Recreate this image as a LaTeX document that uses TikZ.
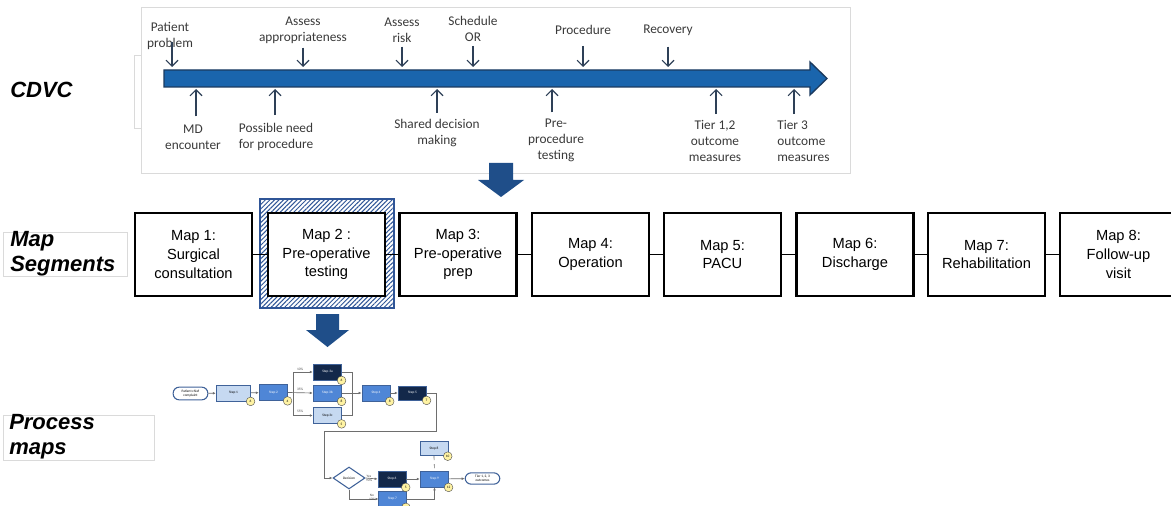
\documentclass[tikz,border=0pt]{standalone}
\usepackage{fontspec}
\setmainfont{Carlito}
\newfontfamily\arial{Liberation Sans}
\usetikzlibrary{arrows.meta,patterns.meta,shapes.geometric}
\definecolor{barblue}{HTML}{1A65AD}
\definecolor{bardark}{HTML}{1B3A5F}
\definecolor{bigarrow}{HTML}{1F4E89}
\definecolor{txtgray}{HTML}{3A3A3A}
\definecolor{tipcol}{HTML}{2E4057}
\definecolor{framegray}{HTML}{DADADA}
\definecolor{hatch}{HTML}{2F5597}
\definecolor{lightstep}{HTML}{C6D9F1}
\definecolor{midstep}{HTML}{4F86D6}
\definecolor{darkstep}{HTML}{13284A}
\definecolor{stepborder}{HTML}{3F6299}
\definecolor{circfill}{HTML}{FFF3A3}
\definecolor{pline}{HTML}{6E6E6E}
\begin{document}
\begin{tikzpicture}[x=0.75pt,y=-0.75pt,
  tl/.style={font=\fontsize{10}{12}\selectfont, align=center, text=txtgray, inner sep=0pt},
  tip/.style={draw=tipcol, line width=0.8pt, -{Straight Barb[length=4.5pt,width=9pt]}},
  mapbox/.style={draw=black, line width=1.9pt, fill=white, minimum width=87.5pt, minimum height=62pt, inner sep=0pt, align=center, font=\arial\fontsize{11}{14}\selectfont},
  conn/.style={draw=black, line width=0.7pt},
  sidelabel/.style={font=\arial\bfseries\itshape\fontsize{16.5}{19}\selectfont, align=left, inner sep=0pt, anchor=west},
  labelbox/.style={draw=framegray, line width=0.6pt},
  st/.style={draw=stepborder, line width=0.6pt, minimum width=21.5pt, minimum height=12pt, inner sep=0pt, font=\fontsize{2.6}{3}\selectfont},
  stl/.style={st, fill=lightstep, text=black},
  stm/.style={st, fill=midstep, text=white},
  std/.style={st, fill=darkstep, text=white},
  circ/.style={circle, draw=black!70, line width=0.3pt, fill=circfill, minimum size=6.5pt, inner sep=0pt, font=\fontsize{2.6}{3}\selectfont},
  term/.style={draw=stepborder, line width=0.8pt, fill=white, rounded corners=4.5pt, minimum width=26pt, minimum height=9.5pt, inner sep=0pt, align=center, font=\fontsize{2.6}{3}\selectfont},
  pa/.style={draw=pline, line width=0.5pt, -{Latex[length=2.2pt,width=2pt]}},
  pl/.style={draw=pline, line width=0.5pt},
  pct/.style={font=\fontsize{2.6}{3}\selectfont, inner sep=0.3pt, text=black!70, align=center}
]
\useasboundingbox (0,0) rectangle (1171,506);
\fill[white] (0,0) rectangle (1171,506);

% ---------- CDVC frame ----------
\draw[framegray, line width=0.6pt] (141,7) -- (850,7) -- (850,173) -- (141,173) -- cycle;
\draw[framegray, line width=0.6pt] (141,55) -- (134,55) -- (134,128) -- (141,128);

\node[sidelabel] (cdvc) at (10,90) {CDVC};

% timeline bar
\draw[fill=barblue, draw=bardark, line width=1pt, line join=miter]
  (164,70) -- (810,70) -- (810,62) -- (827,78.5) -- (810,95) -- (810,87) -- (164,87) -- cycle;

% named points on the bar
\coordinate (a1) at (172,67);
\coordinate (a2) at (303,67);
\coordinate (a3) at (402,67);
\coordinate (a4) at (473,67);
\coordinate (a5) at (583,67);
\coordinate (a6) at (668,67);
\coordinate (b1) at (196,89);
\coordinate (b2) at (275,89);
\coordinate (b3) at (437,89);
\coordinate (b4) at (552,89);
\coordinate (b5) at (716,89);
\coordinate (b6) at (794,89);

% labels above
\node[tl] (pp) at (170,36) {Patient\\problem};
\node[tl] (aa) at (303,30) {Assess\\appropriateness};
\node[tl] (ar) at (402,30) {Assess\\risk};
\node[tl] (so) at (473,29) {Schedule\\OR};
\node[tl] (pr) at (583,30) {Procedure};
\node[tl] (rc) at (668,30) {Recovery};

% labels below
\node[tl] (md) at (193,137) {MD\\encounter};
\node[tl] (pn) at (276,137) {Possible need\\for procedure};
\node[tl] (sd) at (437,133) {Shared decision\\making};
\node[tl] (pt) at (556,140) {Pre-\\procedure\\testing};
\node[tl] (t12) at (715,141) {Tier 1,2\\outcome\\measures};
\node[tl, align=left, anchor=west] (t3) at (777,141) {Tier 3\\outcome\\measures};

% arrows down
\draw[tip] (a1 |- pp.south) ++(0,-8) -- (a1);
\draw[tip] (a2 |- aa.south) ++(0,4) -- (a2);
\draw[tip] (a3 |- ar.south) ++(0,4) -- (a3);
\draw[tip] (a4 |- so.south) ++(0,4) -- (a4);
\draw[tip] (a5 |- pr.south) ++(0,11) -- (a5);
\draw[tip] (a6 |- rc.south) ++(0,11) -- (a6);
% arrows up
\draw[tip] (b1 |- md.north) ++(0,-8) -- (b1);
\draw[tip] (b2 |- pn.north) ++(0,-8) -- (b2);
\draw[tip] (b3 |- sd.north) ++(0,-6) -- (b3);
\draw[tip] (b4 |- pt.north) ++(0,-6) -- (b4);
\draw[tip] (b5 |- t12.north) ++(0,-6) -- (b5);
\draw[tip] (b6 |- t3.north) ++(0,-6) -- (b6);

% big arrow 1
\fill[bigarrow] (489,163) -- (513,163) -- (513,180) -- (524,180) -- (501,197) -- (478,180) -- (489,180) -- cycle;

% ---------- Map segments ----------
\draw[labelbox] (3,232) rectangle (127,276);
\node[sidelabel] (ms) at (10,254) {Map\\Segments};

% hatched highlight frame
\fill[white] (260,199) rectangle (394,308);
\fill[pattern={Lines[angle=45,distance=2.4pt,line width=0.75pt]}, pattern color=hatch] (260,199) rectangle (394,308);
\draw[draw=hatch, line width=1.6pt] (260,199) rectangle (394,308);

\node[mapbox] (m1) at (193.5,254.5) {Map 1:\\Surgical\\consultation};
\node[mapbox] (m2) at (326.5,254.5) {Map 2 :\\Pre-operative\\testing};
\node[mapbox] (m3) at (458,254.5) {Map 3:\\Pre-operative\\prep};
\node[mapbox] (m4) at (590.5,254.5) {Map 4:\\Operation};
\node[mapbox] (m5) at (722.5,254.5) {Map 5:\\PACU};
\node[mapbox] (m6) at (855,254.5) {Map 6:\\Discharge};
\node[mapbox] (m7) at (986.5,254.5) {Map 7:\\Rehabilitation};
\node[mapbox] (m8) at (1118.5,254.5) {Map 8:\\Follow-up\\visit};

\draw[conn] (m1) -- (m2);
\draw[conn] (m2) -- (m3);
\draw[conn] (m3) -- (m4);
\draw[conn] (m4) -- (m5);
\draw[conn] (m5) -- (m6);
\draw[conn] (m6) -- (m7);
\draw[conn] (m7) -- (m8);

% big arrow 2
\fill[bigarrow] (316,314) -- (339,314) -- (339,330) -- (349,330) -- (327.5,347) -- (306,330) -- (316,330) -- cycle;

% ---------- Process maps ----------
\draw[labelbox] (3,415) rectangle (154,460);
\node[sidelabel] (pm) at (9,437) {Process\\maps};

\node[term] (pcc) at (190.5,393.5) {Patient chief\\complaint};
\node[stl, minimum width=26pt] (s1) at (233.5,393) {Step 1};
\node[stm] (s2) at (273.5,392.5) {Step 2};
\node[std] (s3a) at (327.5,372) {Step 3a};
\node[stm] (s3b) at (327.5,393) {Step 3b};
\node[stl] (s3c) at (327.5,415.5) {Step 3c};
\node[stm, minimum width=21pt] (s4) at (376,393) {Step 4};
\node[std, minimum height=10.5pt] (s5) at (412.5,393) {Step 5};
\node[diamond, draw=stepborder, line width=0.8pt, fill=white, minimum width=24pt, minimum height=16.5pt, inner sep=0pt, font=\fontsize{2.6}{3}\selectfont] (dec) at (349,478) {Decision};
\node[std, minimum width=21pt] (s6) at (392,479) {Step 6};
\node[stm, minimum width=20.5pt] (s7) at (392.5,499) {Step 7};
\node[stm] (s9) at (434.5,479) {Step 9};
\node[stl, minimum width=21pt, minimum height=11pt] (s8) at (434,448.5) {Step 8};
\node[term, minimum width=26pt, minimum height=8.5pt] (tier) at (482.5,478.5) {Tier 1, 2, 3\\outcomes};

% small numbered circles
\node[circ] (c1) at ([xshift=-0.5pt]s1.south east) {6};
\node[circ] (c2) at ([xshift=-0.5pt]s2.south east) {4};
\node[circ] (c3a) at ([xshift=-0.5pt]s3a.south east) {6};
\node[circ] (c3b) at ([xshift=-0.5pt]s3b.south east) {8};
\node[circ] (c3c) at ([xshift=-0.5pt]s3c.south east) {5};
\node[circ] (c4) at ([xshift=-0.5pt]s4.south east) {8};
\node[circ] (c5) at ([xshift=-0.5pt]s5.south east) {7};
\node[circ] (c6) at ([xshift=-0.5pt]s6.south east) {5};
\node[circ] (c7) at ([xshift=-0.5pt]s7.south east) {};
\node[circ] (c8) at ([xshift=-0.5pt]s8.south east) {10};
\node[circ] (c9) at ([xshift=-0.5pt]s9.south east) {12};

% process connectors
\coordinate (split) at (293,393);
\coordinate (merge) at (352,393);
\coordinate (r1) at (436,393);
\coordinate (r2) at (436,431);
\coordinate (r3) at (324,431);
\coordinate (r4) at (324,478);
\coordinate (dn) at (349,499);

\draw[pa] (pcc) -- (s1);
\draw[pa] (s1) -- (s2);
\draw[pa] (split) |- (s3a.west);
\draw[pa] (s2.east) -- (s3b.west);
\draw[pa] (split) |- (s3c.west);
\draw[pl] (s3a.east) -| (merge);
\draw[pl] (s3c.east) -| (merge);
\draw[pa] (s3b.east) -- (s4.west);
\draw[pa] (s4) -- (s5);
\draw[pa] (s5.east) -- (r1) -- (r2) -- (r3) -- (r4) -- (dec.west);
\draw[pa] (dec.east) -- (s6.west);
\draw[pa] (dec.south) -- (dn) -- (s7.west);
\draw[pa] (s6) -- (s9);
\draw[pa] (s7.east) -| (s9.south);
\draw[pl, dashed] (s8.south) -- (s9.north);
\draw[pa] (s9) -- (tier);

\node[pct] (p10) at (300,369) {10\%};
\node[pct] (p35) at (300,389.5) {35\%};
\node[pct] (p55) at (300,411) {55\%};
\node[pct] (yes) at (369,478) {Yes\\90\%};
\node[pct] (no) at (372,497.5) {No\\10\%};
\end{tikzpicture}
\end{document}
